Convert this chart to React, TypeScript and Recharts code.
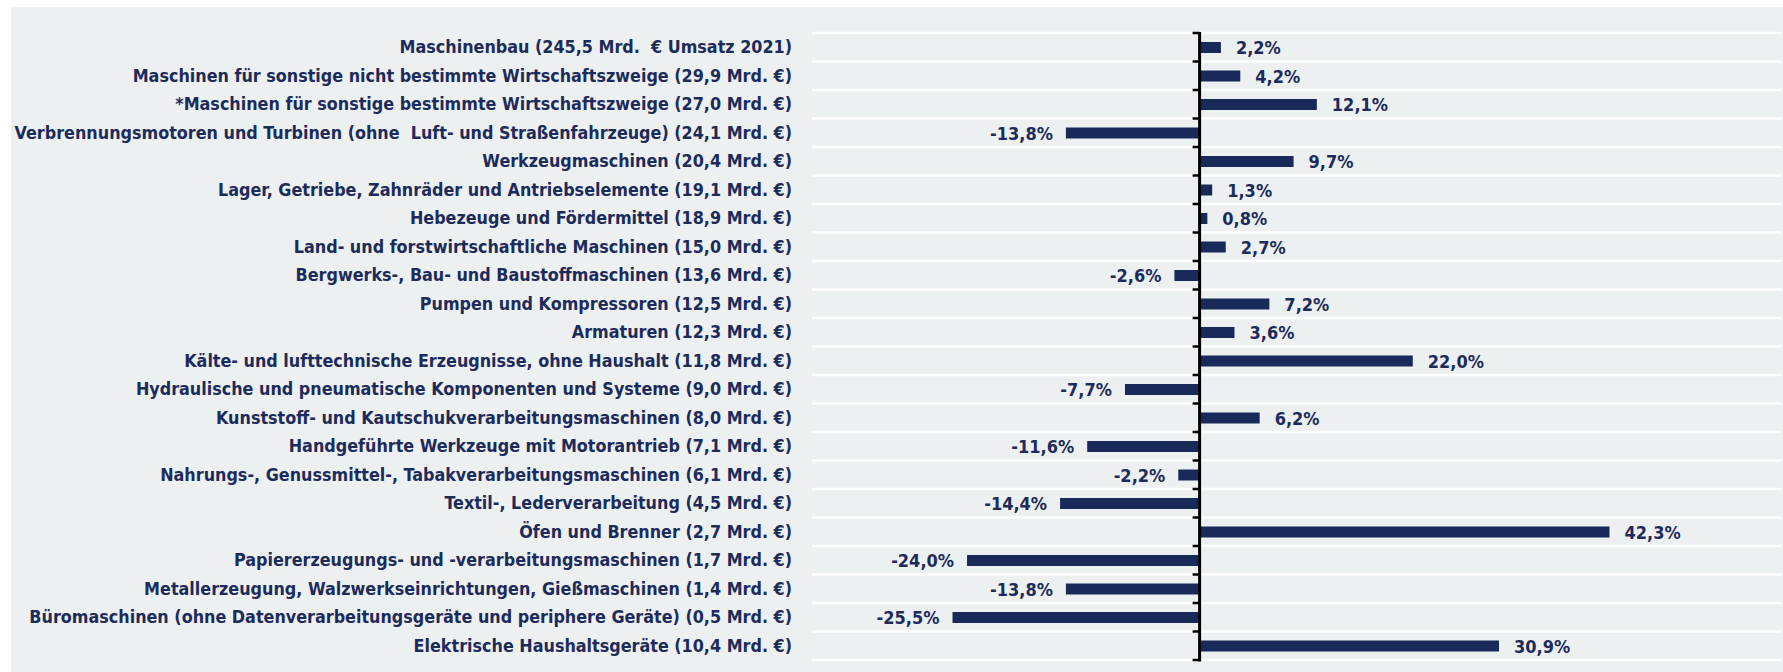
import { BarChart, Bar, XAxis, YAxis, CartesianGrid, ReferenceLine, LabelList } from 'recharts';

const categories = [
  'Maschinenbau (245,5 Mrd.  € Umsatz 2021)',
  'Maschinen für sonstige nicht bestimmte Wirtschaftszweige (29,9 Mrd. €)',
  '*Maschinen für sonstige bestimmte Wirtschaftszweige (27,0 Mrd. €)',
  'Verbrennungsmotoren und Turbinen (ohne  Luft- und Straßenfahrzeuge) (24,1 Mrd. €)',
  'Werkzeugmaschinen (20,4 Mrd. €)',
  'Lager, Getriebe, Zahnräder und Antriebselemente (19,1 Mrd. €)',
  'Hebezeuge und Fördermittel (18,9 Mrd. €)',
  'Land- und forstwirtschaftliche Maschinen (15,0 Mrd. €)',
  'Bergwerks-, Bau- und Baustoffmaschinen (13,6 Mrd. €)',
  'Pumpen und Kompressoren (12,5 Mrd. €)',
  'Armaturen (12,3 Mrd. €)',
  'Kälte- und lufttechnische Erzeugnisse, ohne Haushalt (11,8 Mrd. €)',
  'Hydraulische und pneumatische Komponenten und Systeme (9,0 Mrd. €)',
  'Kunststoff- und Kautschukverarbeitungsmaschinen (8,0 Mrd. €)',
  'Handgeführte Werkzeuge mit Motorantrieb (7,1 Mrd. €)',
  'Nahrungs-, Genussmittel-, Tabakverarbeitungsmaschinen (6,1 Mrd. €)',
  'Textil-, Lederverarbeitung (4,5 Mrd. €)',
  'Öfen und Brenner (2,7 Mrd. €)',
  'Papiererzeugungs- und -verarbeitungsmaschinen (1,7 Mrd. €)',
  'Metallerzeugung, Walzwerkseinrichtungen, Gießmaschinen (1,4 Mrd. €)',
  'Büromaschinen (ohne Datenverarbeitungsgeräte und periphere Geräte) (0,5 Mrd. €)',
  'Elektrische Haushaltsgeräte (10,4 Mrd. €)',
];

// Veränderung in %
const changes = [
  2.2, 4.2, 12.1, -13.8, 9.7, 1.3, 0.8, 2.7, -2.6, 7.2, 3.6,
  22.0, -7.7, 6.2, -11.6, -2.2, -14.4, 42.3, -24.0, -13.8, -25.5, 30.9,
];

const xDomain = [-40, 60];

const data = categories.map((name, i) => ({ name, value: changes[i] }));

const NAVY = '#172a5a';
const TEXT = '#1c2b5a';
const FONT = '"DejaVu Sans Condensed", "Liberation Sans Narrow", sans-serif';

const fmt = (v: number) => v.toFixed(1).replace('.', ',') + '%';

const CategoryTick = ({ x, y, payload }: any) => (
  <text x={x} y={y} dy={6} textAnchor="end" fill={TEXT} fontFamily={FONT}
    fontSize={17.8} fontWeight="bold" style={{ whiteSpace: 'pre' }}>
    {payload.value}
  </text>
);

const ValueLabel = ({ x, y, width, height, value }: any) => {
  const left = Math.min(x, x + width);
  const right = Math.max(x, x + width);
  const pos = value >= 0;
  return (
    <text x={pos ? right + 15 : left - 13} y={y + height / 2} dy={6.5}
      textAnchor={pos ? 'start' : 'end'} fill={TEXT} fontFamily={FONT}
      fontSize={18} fontWeight="bold">
      {fmt(value)}
    </text>
  );
};

// zero axis with small tick marks at the category boundaries
const ZeroAxis = ({ x1, y1, y2 }: any) => {
  const top = Math.min(y1, y2);
  const bottom = Math.max(y1, y2);
  const n = categories.length;
  const step = (bottom - top) / n;
  return (
    <g>
      <line x1={x1} x2={x1} y1={top - 1} y2={bottom + 1.5} stroke="#000" strokeWidth={3} />
      {Array.from({ length: n + 1 }, (_, i) => (
        <line key={i} x1={x1} x2={x1 - 7} y1={top + step * i} y2={top + step * i}
          stroke="#000" strokeWidth={2.5} />
      ))}
    </g>
  );
};

const gridRows = ({ offset }: any) =>
  Array.from({ length: categories.length + 1 }, (_, i) => offset.top + (offset.height * i) / categories.length);

export default function App() {
  return (
    <div style={{ position: 'absolute', left: 0, top: 0, width: 1783, height: 672, background: '#fff', overflow: 'hidden' }}>
      <div style={{ position: 'absolute', left: 11, top: 7, width: 1772, height: 665, background: '#edf0f1' }} />
      <div style={{ position: 'absolute', left: 0, top: 0 }}>
        <BarChart width={1783} height={672} data={data} layout="vertical"
          margin={{ top: 33, right: 2, bottom: 12, left: 0 }} barSize={11}>
          <CartesianGrid vertical={false} stroke="#fff" strokeWidth={2.5}
            horizontalCoordinatesGenerator={gridRows} />
          <XAxis type="number" domain={xDomain} hide allowDataOverflow />
          <YAxis type="category" dataKey="name" width={812} axisLine={false} tickLine={false}
            tickSize={0} tickMargin={20} interval={0} tick={<CategoryTick />} />
          <Bar dataKey="value" fill={NAVY} isAnimationActive={false}>
            <LabelList dataKey="value" content={<ValueLabel />} />
          </Bar>
          <ReferenceLine x={0} stroke="#000" shape={<ZeroAxis />} />
        </BarChart>
      </div>
    </div>
  );
}
